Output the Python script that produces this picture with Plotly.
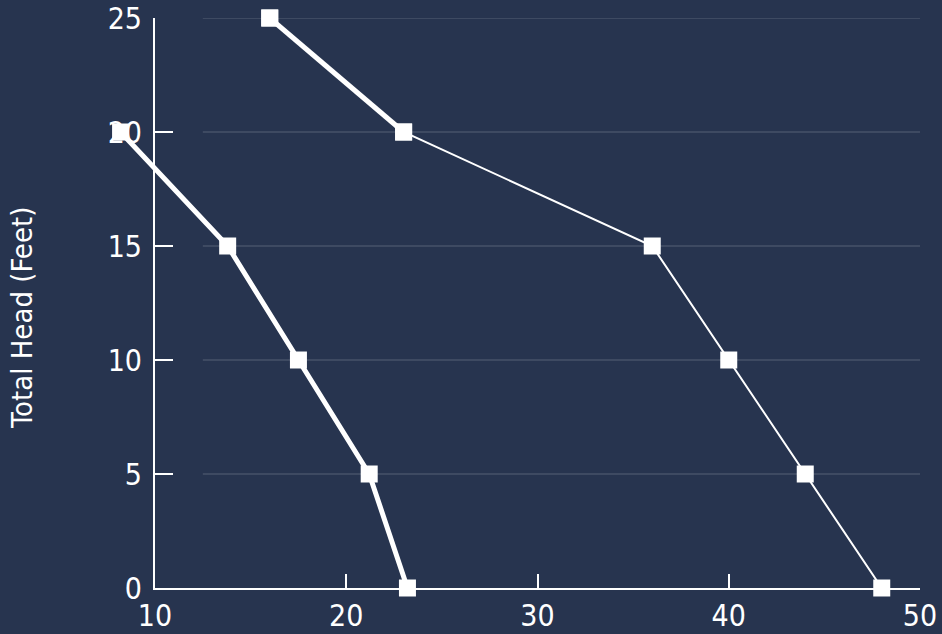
import plotly.graph_objects as go

# ---- data ----
head_ticks = [0, 5, 10, 15, 20, 25]
flow_ticks = [10, 20, 30, 40, 50]

curve_a_x = [16, 23, 36, 40, 44, 48]
curve_a_y = [25, 20, 15, 10, 5, 0]

curve_b_x = [8.2, 13.8, 17.5, 21.2, 23.2]
curve_b_y = [20, 15, 10, 5, 0]

overlay_x = [16, 23]
overlay_y = [25, 20]

y_title = "Total Head (Feet)"

# ---- style ----
BG = "#27344f"
FONT = "DejaVu Sans Condensed, Liberation Sans Narrow, Roboto Condensed, Roboto, sans-serif"
W, H = 942, 634
ML, MR, MT, MB = 100, 22, 18, 46
AXIS_LEFT_PX = 155
plot_w = W - ML - MR
x_dom0 = (AXIS_LEFT_PX - ML) / plot_w
xr = [flow_ticks[0], flow_ticks[-1]]
units_per_px = (xr[1] - xr[0]) / (plot_w * (1 - x_dom0))
x2_lo = xr[0] - (AXIS_LEFT_PX - ML) * units_per_px

marker = dict(symbol="square", size=17, color="white", line=dict(width=0))

fig = go.Figure()
fig.add_trace(go.Scatter(x=curve_a_x, y=curve_a_y, mode="lines+markers",
                         line=dict(color="white", width=2), marker=marker,
                         cliponaxis=False, showlegend=False, hoverinfo="x+y"))
fig.add_trace(go.Scatter(x=overlay_x, y=overlay_y, mode="lines+markers",
                         line=dict(color="white", width=5), marker=marker,
                         cliponaxis=False, showlegend=False, hoverinfo="x+y"))
fig.add_trace(go.Scatter(x=curve_b_x, y=curve_b_y, mode="lines+markers",
                         line=dict(color="white", width=5), marker=marker,
                         xaxis="x2", cliponaxis=False, showlegend=False, hoverinfo="x+y"))

shapes = []
for v in head_ticks[1:]:
    shapes.append(dict(type="line", xref="x", yref="y", x0=12.5, x1=flow_ticks[-1],
                       y0=v, y1=v, layer="below",
                       line=dict(color="rgba(255,255,255,0.22)", width=1)))

fig.update_layout(
    width=W, height=H,
    margin=dict(l=ML, r=MR, t=MT, b=MB, pad=0, autoexpand=False),
    paper_bgcolor=BG, plot_bgcolor="rgba(0,0,0,0)",
    font=dict(family=FONT, color="white", size=30),
    shapes=shapes,
    xaxis=dict(domain=[x_dom0, 1], range=xr, tickvals=flow_ticks,
               ticks="inside", ticklen=14, tickwidth=2, tickcolor="white",
               showline=True, linecolor="white", linewidth=2,
               showgrid=False, zeroline=False, anchor="y", automargin=False,
               tickfont=dict(size=30)),
    xaxis2=dict(domain=[0, 1], range=[x2_lo, xr[1]], visible=False, anchor="y",
                showgrid=False, zeroline=False, automargin=False),
    yaxis=dict(range=[0, 25], tickvals=head_ticks, anchor="x",
               ticks="inside", ticklen=18, tickwidth=2, tickcolor="white",
               showline=True, linecolor="white", linewidth=2,
               showgrid=False, zeroline=False, ticklabelstandoff=5, automargin=False,
               tickfont=dict(size=30)),
    annotations=[dict(text=y_title, xref="paper", yref="paper",
                      x=(22 - ML) / plot_w, y=(H - MB - 318) / (H - MT - MB),
                      xanchor="center", yanchor="middle", textangle=-90,
                      showarrow=False, font=dict(size=29, color="white"))],
)

fig.write_html("out.html", config={"displayModeBar": False},
               post_script="document.body.style.margin='0';document.body.style.overflow='hidden';")
